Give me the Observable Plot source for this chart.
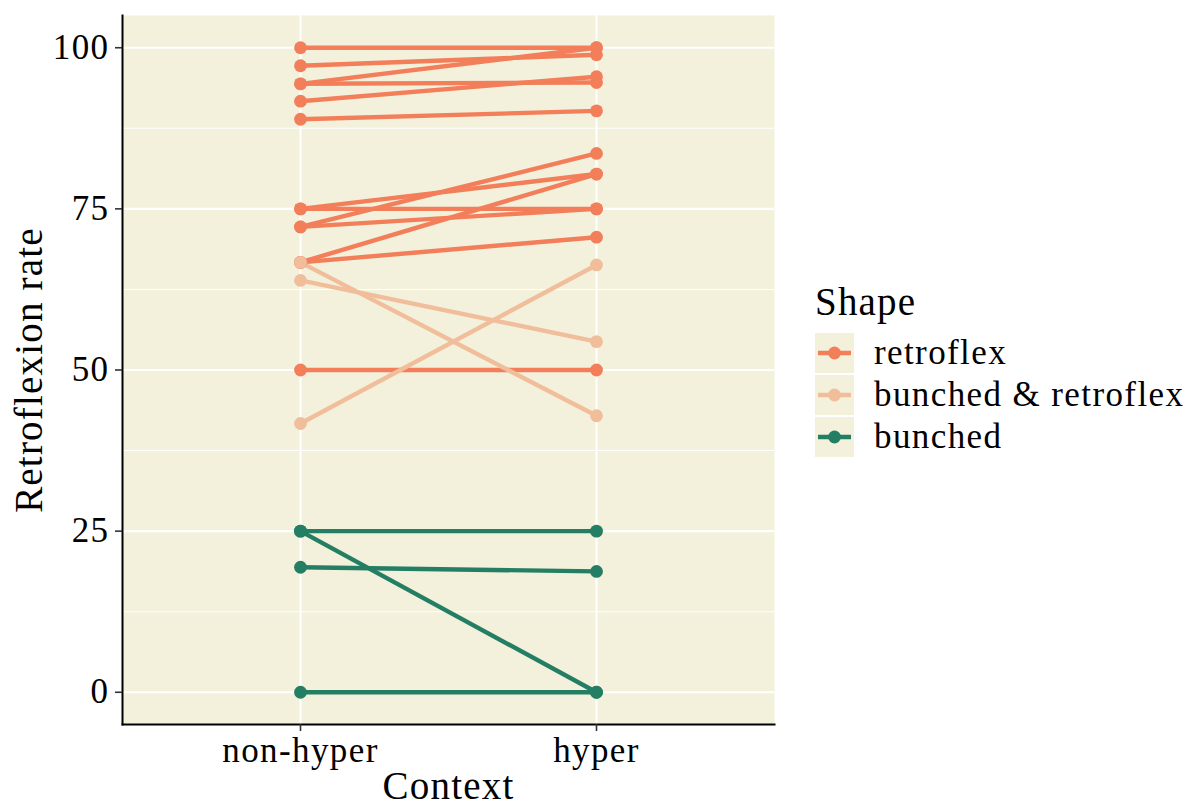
<!DOCTYPE html>
<html>
<head>
<meta charset="utf-8">
<script src="https://cdn.jsdelivr.net/npm/d3@7"></script>
<script src="https://cdn.jsdelivr.net/npm/@observablehq/plot@0.6"></script>
<style>
  html, body { margin: 0; padding: 0; background: #ffffff; }
  #wrap { position: relative; width: 1197px; height: 808px; font-family: "Liberation Serif", "DejaVu Serif", serif; color: #000; }
  #legend { position: absolute; left: 815px; top: 282px; }
  #legend .title { font-size: 39px; letter-spacing: 1.2px; line-height: 39px; height: 42px; margin-bottom: 9px; }
  #legend .row { display: flex; align-items: center; height: 40px; margin-bottom: 2px; }
  #legend .row svg { display: block; }
  #legend .row span { font-size: 35px; letter-spacing: 1.4px; margin-left: 20px; white-space: nowrap; }
  g[aria-label="x-axis label"] text, g[aria-label="y-axis label"] text { font-size: 39px; letter-spacing: 1.2px; fill: #000; }
  g[aria-label="x-axis tick label"] text, g[aria-label="y-axis tick label"] text { letter-spacing: 1.4px; }
</style>
</head>
<body>
<div id="wrap"></div>
<script>
// ---- data ----
const contexts = ["non-hyper", "hyper"];
const shapes = ["retroflex", "bunched & retroflex", "bunched"];
const shapeColors = ["#F37E5A", "#F1BE9C", "#247E63"];
const speakerShape = [
  "retroflex", "retroflex", "retroflex", "retroflex", "retroflex", "retroflex", "retroflex",
  "retroflex", "retroflex", "retroflex", "retroflex", "retroflex", "retroflex",
  "bunched & retroflex", "bunched & retroflex", "bunched & retroflex",
  "bunched", "bunched", "bunched", "bunched"
];
const nonHyperRate = [100, 97.2, 94.4, 94.4, 91.7, 88.9, 75, 75, 72.2, 72.2, 66.7, 66.7, 50,
  66.7, 63.9, 41.7, 25, 25, 19.4, 0];
const hyperRate = [100, 98.9, 100, 94.6, 95.5, 90.2, 80.4, 75, 83.6, 75, 80.4, 70.6, 50,
  42.9, 54.4, 66.3, 25, 0, 18.75, 0];
const yTicks = [0, 25, 50, 75, 100];
const yMinorTicks = [12.5, 37.5, 62.5, 87.5];
const yDomain = [-5, 105];

const rows = [];
speakerShape.forEach((s, i) => {
  rows.push({speaker: i, shape: s, context: contexts[0], rate: nonHyperRate[i]});
  rows.push({speaker: i, shape: s, context: contexts[1], rate: hyperRate[i]});
});

const panelBg = "#F3F1DC";

const chart = Plot.plot({
  width: 1197,
  height: 808,
  marginLeft: 122,
  marginRight: 423,
  marginTop: 15,
  marginBottom: 84,
  style: {background: "transparent", fontFamily: "'Liberation Serif', 'DejaVu Serif', serif", color: "#000"},
  x: {type: "point", domain: contexts, padding: 0.6},
  y: {domain: yDomain},
  color: {domain: shapes, range: shapeColors},
  marks: [
    Plot.frame({fill: panelBg, stroke: null}),
    Plot.ruleY(yMinorTicks, {stroke: "white", strokeWidth: 1.1}),
    Plot.ruleY(yTicks, {stroke: "white", strokeWidth: 2.2}),
    Plot.ruleX(contexts, {stroke: "white", strokeWidth: 2.2}),
    Plot.line(rows, {x: "context", y: "rate", z: "speaker", stroke: "shape", strokeWidth: 4.4, strokeLinecap: "butt"}),
    Plot.dot(rows, {x: "context", y: "rate", fill: "shape", r: 6.4, stroke: null}),
    Plot.frame({anchor: "left", stroke: "black", strokeWidth: 2}),
    Plot.frame({anchor: "bottom", stroke: "black", strokeWidth: 2}),
    Plot.axisY(yTicks, {
      tickSize: 7, tickPadding: 6, fontSize: 35, stroke: "#333", strokeWidth: 1.6,
      label: "Retroflexion rate", labelAnchor: "center", labelOffset: 108, labelArrow: "none"
    }),
    Plot.axisX(contexts, {
      tickSize: 7, tickPadding: 6, fontSize: 35, stroke: "#333", strokeWidth: 1.6,
      label: "Context", labelAnchor: "center", labelOffset: 74, labelArrow: "none"
    })
  ]
});

const wrap = document.getElementById("wrap");
wrap.appendChild(chart);

// ---- legend ----
const legend = document.createElement("div");
legend.id = "legend";
const title = document.createElement("div");
title.className = "title";
title.textContent = "Shape";
legend.appendChild(title);
shapes.forEach((s, i) => {
  const row = document.createElement("div");
  row.className = "row";
  const ns = "http://www.w3.org/2000/svg";
  const svg = document.createElementNS(ns, "svg");
  svg.setAttribute("width", 39);
  svg.setAttribute("height", 40);
  const rect = document.createElementNS(ns, "rect");
  rect.setAttribute("width", 39); rect.setAttribute("height", 40); rect.setAttribute("fill", panelBg);
  const line = document.createElementNS(ns, "line");
  line.setAttribute("x1", 3); line.setAttribute("x2", 36); line.setAttribute("y1", 20); line.setAttribute("y2", 20);
  line.setAttribute("stroke", shapeColors[i]); line.setAttribute("stroke-width", 4.4);
  const c = document.createElementNS(ns, "circle");
  c.setAttribute("cx", 19.5); c.setAttribute("cy", 20); c.setAttribute("r", 6.4); c.setAttribute("fill", shapeColors[i]);
  svg.appendChild(rect); svg.appendChild(line); svg.appendChild(c);
  const label = document.createElement("span");
  label.textContent = s;
  row.appendChild(svg); row.appendChild(label);
  legend.appendChild(row);
});
wrap.appendChild(legend);
</script>
</body>
</html>
